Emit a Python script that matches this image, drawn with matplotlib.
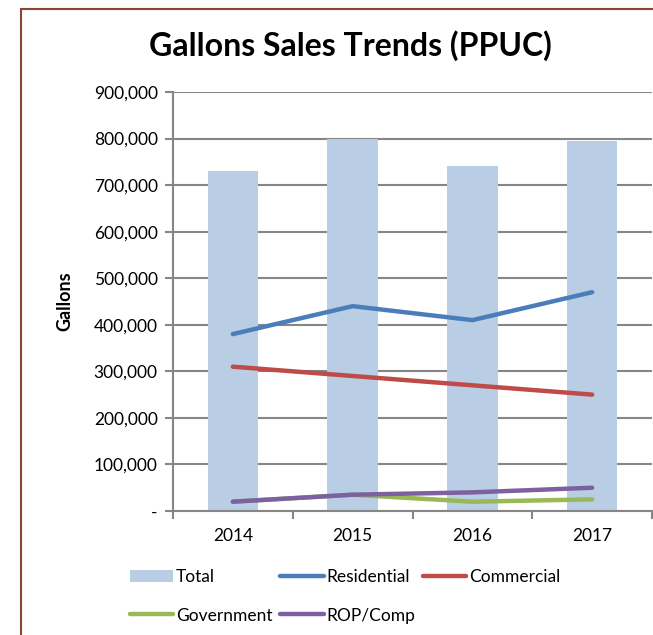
import matplotlib
matplotlib.use("Agg")
import matplotlib.pyplot as plt
from matplotlib.patches import Rectangle
from matplotlib.ticker import FuncFormatter, FixedLocator
import numpy as np

years = ["2014", "2015", "2016", "2017"]
total = [730000, 800000, 740000, 795000]
residential = [380000, 440000, 410000, 470000]
commercial = [310000, 290000, 270000, 250000]
government = [20000, 35000, 20000, 25000]
rop_comp = [20000, 35000, 40000, 50000]

plt.rcParams['font.family'] = ['Lato', 'DejaVu Sans']

W, H = 653, 635
fig = plt.figure(figsize=(W / 100, H / 100), dpi=100)

# outer brown frame (extends beyond the right/bottom edge)
fig.patches.append(Rectangle((21 / W, -0.1), 1.2, 1 - 9 / H + 0.1, transform=fig.transFigure,
                             fill=False, edgecolor='#8B4533', linewidth=1.5, zorder=0))

ax = fig.add_axes([173 / W, 1 - 511 / H, (652 - 173) / W, (511 - 92) / H])
x = np.arange(len(years))
grid_c = '#868686'

bars = ax.bar(x, total, width=0.42, color='#B9CDE5', zorder=2, label='Total')
lw = 3.2
l_res, = ax.plot(x, residential, color='#4A7EBB', lw=lw, solid_capstyle='round', zorder=3, label='Residential')
l_com, = ax.plot(x, commercial, color='#BE4B48', lw=lw, solid_capstyle='round', zorder=3, label='Commercial')
l_gov, = ax.plot(x, government, color='#98B954', lw=lw, solid_capstyle='round', zorder=3, label='Government')
l_rop, = ax.plot(x, rop_comp, color='#7D60A0', lw=lw, solid_capstyle='round', zorder=4, label='ROP/Comp')

ax.set_xlim(-0.5, len(years) - 0.5)
ax.set_ylim(0, 900000)
ax.set_yticks(np.arange(0, 900001, 100000))
ax.yaxis.set_major_formatter(FuncFormatter(lambda v, p: '-' if v == 0 else f'{int(v):,}'))
ax.grid(axis='y', color=grid_c, linewidth=1.5, zorder=1)
ax.set_axisbelow(True)

fs = 12.5
ax.set_xticks(x)
ax.set_xticklabels(years)
ax.xaxis.set_minor_locator(FixedLocator(np.arange(-0.5, len(years), 1.0)))
ax.tick_params(axis='x', which='major', length=0, pad=12, labelsize=fs)
ax.tick_params(axis='x', which='minor', length=6, width=1.5, color=grid_c, direction='out')
ax.tick_params(axis='y', length=6, width=1.5, color=grid_c, direction='out', pad=5, labelsize=fs)

for s in ['top', 'right']:
    ax.spines[s].set_visible(False)
for s in ['left', 'bottom']:
    ax.spines[s].set_color(grid_c)
    ax.spines[s].set_linewidth(1.5)

ax.set_ylabel('Gallons', fontsize=13, fontweight='bold', labelpad=15)
fig.text(350 / W, 1 - 46 / H, 'Gallons Sales Trends (PPUC)', ha='center', va='center',
         fontsize=23, fontweight='bold')

handles = [bars, l_gov, l_res, l_rop, l_com]
labels = ['Total', 'Government', 'Residential', 'ROP/Comp', 'Commercial']
leg = fig.legend(handles, labels, ncol=3,
                 loc='upper left', bbox_to_anchor=(130 / W, 1 - 569 / H),
                 frameon=False, fontsize=fs, handlelength=2.5, handletextpad=0.15,
                 columnspacing=0.45, labelspacing=1.3, borderaxespad=0, borderpad=0)

fig.savefig('out.png', dpi=100)
